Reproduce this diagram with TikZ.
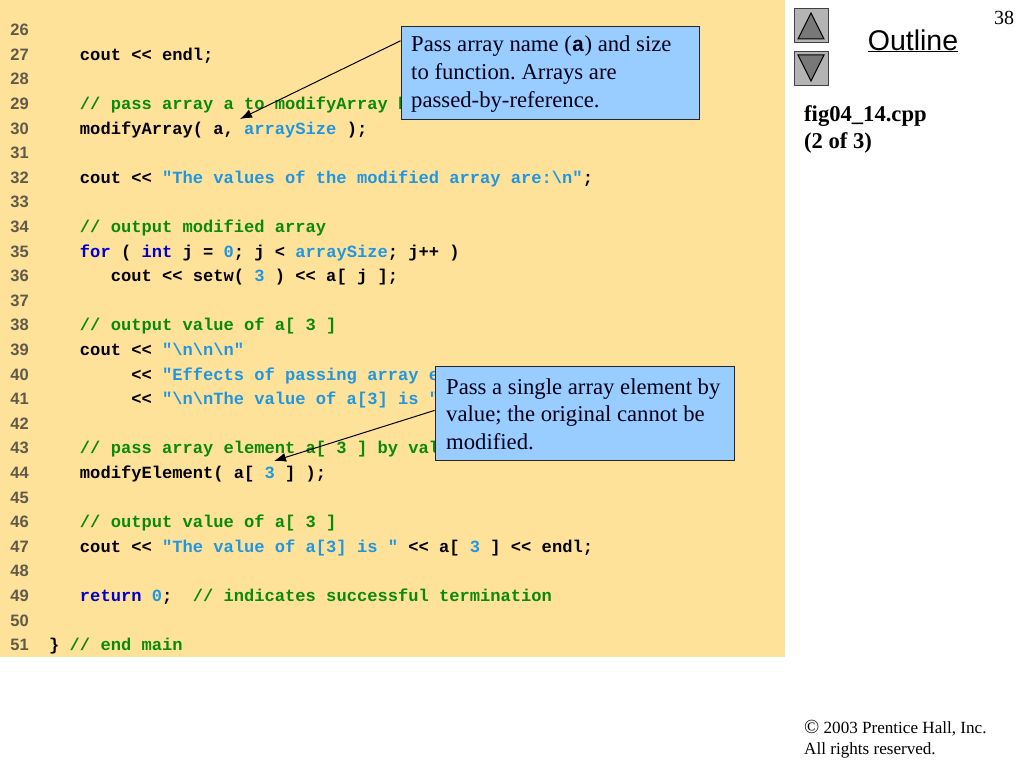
\documentclass[tikz,border=0pt]{standalone}
\usepackage{fontspec}
\usetikzlibrary{arrows.meta}
\setmainfont{Liberation Serif}
\newfontfamily\codefont{Liberation Mono}[BoldFont={Liberation Mono Bold}]
\newfontfamily\armono{Liberation Sans}
\definecolor{pagebg}{HTML}{FFE29A}
\definecolor{calloutbg}{HTML}{99CCFF}
\definecolor{numgray}{HTML}{5F5A48}
\definecolor{cgreen}{HTML}{0A8A0A}
\definecolor{cblue}{HTML}{0000CC}
\definecolor{clit}{HTML}{2196E0}
\definecolor{btnbg}{HTML}{B4B4B4}
\definecolor{btntri}{HTML}{787878}
\newcommand{\cmt}[1]{\textcolor{cgreen}{#1}}
\newcommand{\kwd}[1]{\textcolor{cblue}{#1}}
\newcommand{\lit}[1]{\textcolor{clit}{#1}}
\newcommand{\bsl}{\symbol{92}}
\tikzset{
  x=1pt,y=-1pt,
  lnum/.style={anchor=base east,inner sep=0pt,font=\fontsize{16.5}{16.5}\armono\bfseries,text=numgray},
  code/.style={anchor=base west,inner sep=0pt,font=\fontsize{17.1}{17.1}\codefont\bfseries,text=black},
  callout/.style={draw=black!85,line width=0.8pt,fill=calloutbg,inner sep=0pt,anchor=center},
  callouttext/.style={inner sep=0pt,anchor=west,align=left,text=black!90!blue},
  nav/.style={draw=black!75,line width=0.8pt,fill=btnbg,minimum width=34pt,minimum height=34pt,inner sep=0pt},
  navtri/.style={draw=black,line width=1pt,fill=btntri},
  leader/.style={draw=black,line width=1pt,-{Latex[length=12pt,width=9pt]}},
  sidetxt/.style={anchor=base west,inner sep=0pt,text=black}
}
\newcommand{\codeline}[3]{%
  \node[lnum] (n#1) at (29,{35.7+24.6*(#1-26)}) {#1};
  \ifx\relax#3\relax\else
  \node[code] (c#1) at ({49+10.26*#2},{35.7+24.6*(#1-26)}) {#3};
  \fi}
\begin{document}
\frenchspacing
\begin{tikzpicture}
\useasboundingbox (0,0) rectangle (1024,768);
\fill[white] (0,0) rectangle (1024,768);
\fill[pagebg] (0,0) rectangle (785,657);
\codeline{26}{0}{}
\codeline{27}{3}{cout << endl;}
\codeline{28}{0}{}
\codeline{29}{3}{\cmt{// pass array a to modifyArray b}}
\codeline{30}{3}{modifyArray( a, \lit{arraySize} );}
\codeline{31}{0}{}
\codeline{32}{3}{cout << \lit{"The values of the modified array are:\bsl n"};}
\codeline{33}{0}{}
\codeline{34}{3}{\cmt{// output modified array}}
\codeline{35}{3}{\kwd{for} ( \kwd{int} j = \lit{0}; j < \lit{arraySize}; j++ )}
\codeline{36}{6}{cout << setw( \lit{3} ) << a[ j ];}
\codeline{37}{0}{}
\codeline{38}{3}{\cmt{// output value of a[ 3 ]}}
\codeline{39}{3}{cout << \lit{"\bsl n\bsl n\bsl n"}}
\codeline{40}{8}{<< \lit{"Effects of passing array e}}
\codeline{41}{8}{<< \lit{"\bsl n\bsl nThe value of a[3] is "}}
\codeline{42}{0}{}
\codeline{43}{3}{\cmt{// pass array element a[ 3 ] by val}}
\codeline{44}{3}{modifyElement( a[ \lit{3} ] );}
\codeline{45}{0}{}
\codeline{46}{3}{\cmt{// output value of a[ 3 ]}}
\codeline{47}{3}{cout << \lit{"The value of a[3] is "} << a[ \lit{3} ] << endl;}
\codeline{48}{0}{}
\codeline{49}{3}{\kwd{return} \lit{0};\ \ \cmt{// indicates successful termination}}
\codeline{50}{0}{}
\codeline{51}{0}{\} \cmt{// end main}}
\node[callout,minimum width=298pt,minimum height=93pt] (box1) at (550,72.5) {};
\node[callout,minimum width=299pt,minimum height=94pt] (box2) at (584.5,413) {};
\node[callouttext,font=\fontsize{22.7}{28}\selectfont] (text1) at (411,74)
  {Pass array name ({\fontsize{21}{28}\codefont\bfseries a}) and size\\to function. Arrays are\\passed-by-reference.};
\node[callouttext,font=\fontsize{22.7}{27.5}\selectfont] (text2) at (446,414)
  {Pass a single array element by\\value; the original cannot be\\modified.};
\coordinate (tip1) at (240,119);
\coordinate (tip2) at (274,461);
\draw[leader] (box1.168.4) -- (tip1);
\draw[leader] (box2.179) -- (tip2);
\node[nav] (up) at (811,25.5) {};
\node[nav] (down) at (811,68.5) {};
\draw[navtri] (811,13) -- (824,39) -- (798,39) -- cycle;
\draw[navtri] (811,81) -- (824,55) -- (798,55) -- cycle;
\node[anchor=base,inner sep=0pt,font=\fontsize{28.5}{29}\armono] (outline) at (913,50) {\underline{Outline}};
\node[anchor=base west,inner sep=0pt,font=\fontsize{20}{20}\selectfont] (page) at (994,25) {38};
\node[sidetxt,font=\fontsize{22.6}{23}\selectfont\bfseries] (fig) at (804,121) {fig04\_14.cpp};
\node[sidetxt,font=\fontsize{22.6}{23}\selectfont\bfseries] (part) at (804,148) {(2 of 3)};
\node[sidetxt,font=\fontsize{17.1}{18}\selectfont] (copy) at (804,733) {{\fontsize{20}{20}\selectfont ©} 2003 Prentice Hall, Inc.};
\node[sidetxt,font=\fontsize{17.1}{18}\selectfont] (rights) at (804,754) {All rights reserved.};
\end{tikzpicture}
\end{document}
